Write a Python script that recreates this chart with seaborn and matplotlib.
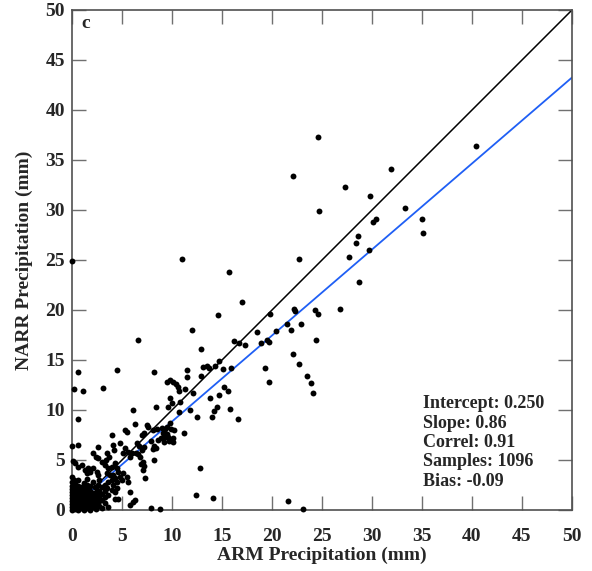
import matplotlib
matplotlib.use("Agg")
import matplotlib.pyplot as plt
import seaborn as sns
import pandas as pd

# ---- data (ARM mm, NARR mm) ----
cluster_pts = [
    (0.0, 0.0), (0.0, 0.3), (0.0, 0.6), (0.0, 0.9), (0.0, 1.2), (0.0, 1.5), (0.0, 1.8),
    (0.0, 2.1), (0.0, 2.4), (0.0, 2.8), (0.0, 3.3), (0.2, 3.0), (0.1, 4.9), (0.0, 6.4),
    (0.3, 0.1), (0.3, 0.5), (0.3, 0.9), (0.3, 1.3), (0.3, 1.7), (0.3, 2.1), (0.3, 2.6),
    (0.6, 0.0), (0.6, 0.4), (0.6, 0.8), (0.6, 1.2), (0.6, 1.6), (0.6, 2.0), (0.6, 2.4), (0.6, 3.0),
    (0.9, 0.2), (0.9, 0.6), (0.9, 1.0), (0.9, 1.4), (0.9, 1.9), (0.9, 2.3),
    (1.2, 0.0), (1.2, 0.4), (1.2, 0.8), (1.2, 1.3), (1.2, 1.7), (1.2, 2.2), (1.2, 2.7),
    (1.5, 0.2), (1.5, 0.6), (1.5, 1.0), (1.5, 1.5), (1.5, 2.0), (1.5, 2.5), (1.5, 3.1),
    (1.8, 0.0), (1.8, 0.5), (1.8, 0.9), (1.8, 1.4), (1.8, 1.9), (1.8, 2.4),
    (2.1, 0.3), (2.1, 0.8), (2.1, 1.2), (2.1, 1.7), (2.1, 2.8),
    (2.4, 0.1), (2.4, 0.6), (2.4, 1.1), (2.4, 1.5),
    (2.7, 0.4), (2.7, 0.9), (2.7, 1.4), (2.7, 1.9), (2.7, 3.0),
    (3.0, 0.2), (3.0, 1.0), (3.0, 1.6), (3.3, 0.7), (3.3, 1.3), (3.3, 1.9),
    (3.6, 0.3), (3.6, 1.5),
]

low_pts = [
    (0.6, 9.1), (6.3, 8.6), (7.5, 8.5), (7.6, 8.3), (5.3, 8.0), (5.5, 7.8), (4.0, 7.5),
    (7.2, 7.7), (7.0, 7.5), (8.1, 8.0), (8.5, 8.1), (9.0, 8.2), (9.3, 8.1), (9.5, 8.3),
    (9.9, 8.1), (10.2, 8.0), (9.1, 7.7), (9.3, 7.3), (9.5, 7.6), (9.6, 7.3), (8.9, 7.2),
    (8.6, 7.0), (9.8, 8.7), (10.1, 7.2), (11.2, 7.7),
    (0.6, 6.5), (2.6, 6.3), (4.1, 6.5), (4.8, 6.7), (6.5, 6.7), (6.7, 6.4), (7.2, 6.3),
    (7.0, 6.0), (7.9, 6.9), (8.2, 6.4), (8.4, 6.2), (8.1, 6.1), (9.2, 6.8), (9.7, 6.9),
    (10.1, 6.8), (5.3, 6.2), (5.1, 5.7), (5.6, 5.8), (4.2, 6.0), (6.0, 5.7), (5.8, 5.3),
    (6.4, 5.7), (6.6, 5.6), (6.8, 5.3), (7.1, 4.8), (6.9, 4.6), (7.2, 4.4), (8.2, 5.0),
    (7.3, 3.2), (7.1, 4.0), (2.1, 5.7), (2.4, 5.3), (2.6, 5.2), (3.0, 4.8), (3.4, 5.0),
    (3.3, 4.5), (3.5, 5.7), (3.7, 5.3), (0.3, 4.7), (0.6, 4.3), (1.0, 4.5), (1.3, 4.0),
    (1.6, 4.2), (1.8, 3.8), (1.5, 3.7), (2.1, 4.2), (2.5, 3.8), (2.6, 3.5), (4.3, 4.7),
    (4.0, 4.3), (4.5, 4.2), (4.6, 3.8), (3.6, 4.2), (3.5, 3.7), (3.8, 3.5), (4.1, 3.5),
    (4.3, 3.2), (4.0, 3.0), (4.5, 2.8), (4.1, 2.5), (4.8, 3.3), (5.0, 3.0), (5.1, 3.7),
    (5.5, 3.3), (5.6, 2.8), (3.6, 2.8), (3.3, 2.5), (3.0, 2.3), (3.5, 2.2), (2.6, 2.5),
    (2.5, 2.0), (2.3, 2.3), (4.0, 2.0), (4.3, 1.8), (4.5, 2.2), (5.8, 1.8), (4.3, 1.1),
    (4.6, 1.1), (6.3, 1.0), (6.1, 0.8), (5.8, 0.5), (7.9, 0.2), (8.8, 0.1),
    (12.8, 4.2), (12.4, 1.5), (14.1, 1.2), (21.6, 0.9), (23.1, 0.1),
]

mid_pts = [
    (12.0, 18.0), (21.5, 18.6), (22.9, 18.6), (21.9, 18.0), (18.5, 17.8), (20.4, 17.9),
    (6.6, 17.0), (16.2, 16.9), (16.7, 16.7), (17.3, 16.5), (18.9, 16.7), (19.5, 17.0),
    (19.7, 16.8), (24.4, 17.0), (12.9, 16.1), (22.1, 15.6), (22.7, 14.6), (23.5, 13.4),
    (23.9, 12.7), (24.1, 11.7), (19.3, 14.2), (19.7, 12.8), (0.6, 13.8), (4.5, 14.0),
    (8.2, 13.8), (11.5, 14.0), (11.5, 13.3), (9.5, 12.8), (9.8, 13.0), (10.1, 12.8),
    (10.4, 12.6), (10.6, 12.3), (10.7, 11.9), (12.9, 13.4), (13.1, 14.3), (13.5, 14.4),
    (13.7, 14.2), (14.3, 14.4), (14.7, 14.9), (15.1, 14.1), (15.9, 14.2), (11.3, 12.1),
    (15.2, 12.3), (15.6, 11.9), (3.1, 12.2), (0.2, 12.1), (1.1, 11.9), (12.1, 11.7),
    (9.8, 11.2), (13.8, 11.2), (14.7, 11.5), (10.0, 10.7), (9.6, 10.3), (10.8, 10.8),
    (10.7, 9.8), (8.4, 10.3), (6.1, 10.0), (11.8, 10.0), (14.5, 10.3), (14.2, 9.9),
    (15.8, 10.1), (16.6, 9.1), (14.0, 9.3), (12.5, 9.3),
]

high_pts = [
    (40.4, 36.4), (24.6, 37.3), (22.1, 33.4), (31.9, 34.1), (27.3, 32.3), (29.8, 31.4),
    (24.7, 29.9), (33.3, 30.2), (30.1, 28.8), (30.4, 29.1), (35.0, 29.1), (35.1, 27.7),
    (28.6, 27.4), (28.4, 26.7), (29.7, 26.0), (27.7, 25.3), (0.0, 24.9), (11.0, 25.1),
    (22.7, 25.1), (15.7, 23.8), (28.7, 22.8), (17.0, 20.8), (26.8, 20.1), (22.2, 20.1),
    (22.3, 19.9), (24.3, 20.0), (24.6, 19.6), (14.6, 19.5), (19.8, 19.6),
]

# regression statistics shown in the panel
intercept = 0.250
slope = 0.86
correl = 0.91
n_samples = 1096
bias = -0.09
axis_range = [0, 50]
ticks = [0, 5, 10, 15, 20, 25, 30, 35, 40, 45, 50]
tick_labels = [str(t) for t in ticks]

sns.set_style("ticks")
plt.rcParams["font.family"] = ["Liberation Serif", "DejaVu Serif"]
plt.rcParams["font.weight"] = "bold"

df = pd.DataFrame(cluster_pts + low_pts + mid_pts + high_pts, columns=["ARM", "NARR"])
lines = pd.DataFrame({
    "x": axis_range,
    "one": axis_range,
    "fit": [intercept + slope * v for v in axis_range],
})

fig = plt.figure(figsize=(5.92, 5.71), dpi=100)
ax = fig.add_axes([72 / 592, 1 - 510 / 571, 500 / 592, 500 / 571])

sns.lineplot(data=lines, x="x", y="one", ax=ax, color="black", linewidth=1.1, zorder=2)
sns.lineplot(data=lines, x="x", y="fit", ax=ax, color="#1f5ff5", linewidth=1.3, zorder=2)
sns.scatterplot(data=df, x="ARM", y="NARR", ax=ax, color="black", s=18,
                linewidth=0, zorder=3, clip_on=False)

ax.set_xlim(axis_range)
ax.set_ylim(axis_range)
ax.set_xticks(ticks, labels=tick_labels, fontsize=14, fontweight="bold")
ax.set_yticks(ticks, labels=tick_labels, fontsize=14, fontweight="bold")
ax.tick_params(direction="in", length=10, width=1, color="#707070",
               top=True, right=True)
ax.tick_params(axis="x", pad=13)
ax.tick_params(axis="y", pad=5)
for sp in ax.spines.values():
    sp.set_color("#505050")
    sp.set_linewidth(1.2)

ax.set_xlabel("ARM Precipitation (mm)", fontsize=14, fontweight="bold", labelpad=1)
ax.set_ylabel("NARR Precipitation (mm)", fontsize=14, fontweight="bold", labelpad=9)

ax.text(0.018, 0.99, "c", transform=ax.transAxes, fontsize=14, fontweight="bold",
        va="top", ha="left")

stats = [f"Intercept: {intercept:.3f}", f"Slope: {slope:.2f}", f"Correl: {correl:.2f}",
         f"Samples: {n_samples}", f"Bias: {bias:.2f}"]
for i, s in enumerate(stats):
    ax.text(0.702, 0.213 - i * 0.039, s, transform=ax.transAxes, fontsize=13,
            fontweight="bold", va="center", ha="left")

fig.savefig("out.png", dpi=100)
